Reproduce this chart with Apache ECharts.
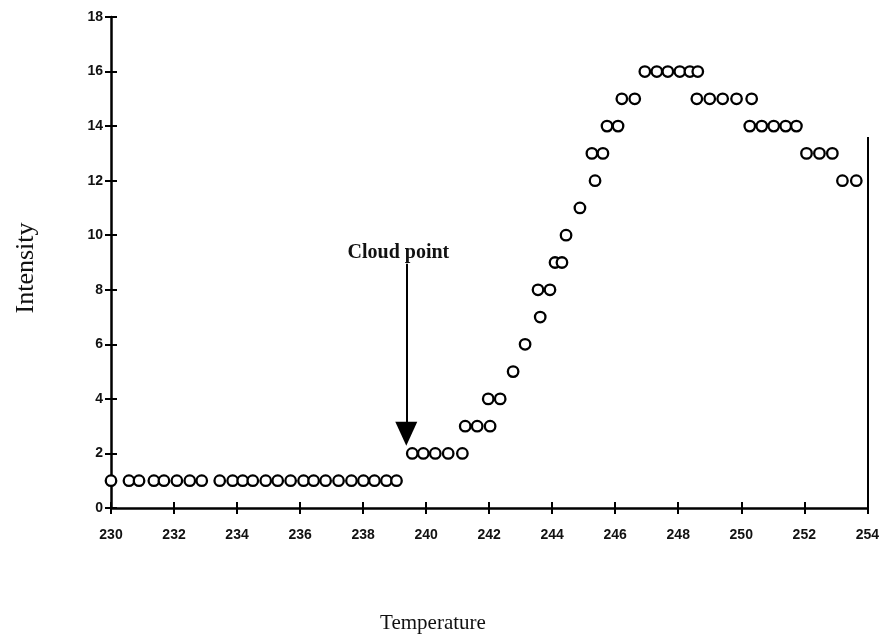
<!DOCTYPE html>
<html>
<head>
<meta charset="utf-8">
<script src="https://cdn.jsdelivr.net/npm/echarts@6/dist/echarts.min.js"></script>
<style>html,body{margin:0;padding:0;background:#fff;}#c{width:882px;height:638px;}</style>
</head>
<body>
<div id="c"></div>
<script>
// Temperature readings (x) and intensity (y)
const temperature = [
  230.0, 230.57, 230.89, 231.36, 231.68, 232.09, 232.5, 232.88, 233.45, 233.86, 234.18, 234.5,
  234.91, 235.29, 235.7, 236.11, 236.43, 236.81, 237.22, 237.63, 238.01, 238.36, 238.74, 239.06,
  239.56, 239.91, 240.29, 240.7, 241.15,
  241.24, 241.62, 242.03,
  241.97, 242.35,
  242.76, 243.14, 243.62, 243.55, 243.93, 244.09, 244.31, 244.44, 244.88, 245.36,
  245.26, 245.61, 245.74, 246.09, 246.21, 246.62,
  246.94, 247.32, 247.67, 248.05, 248.37, 248.62,
  248.59, 249.0, 249.41, 249.85, 250.33,
  250.27, 250.65, 251.03, 251.41, 251.75,
  252.07, 252.48, 252.89,
  253.21, 253.65
];
const intensity = [
  1, 1, 1, 1, 1, 1, 1, 1, 1, 1, 1, 1,
  1, 1, 1, 1, 1, 1, 1, 1, 1, 1, 1, 1,
  2, 2, 2, 2, 2,
  3, 3, 3,
  4, 4,
  5, 6, 7, 8, 8, 9, 9, 10, 11, 12,
  13, 13, 14, 14, 15, 15,
  16, 16, 16, 16, 16, 16,
  15, 15, 15, 15, 15,
  14, 14, 14, 14, 14,
  13, 13, 13,
  12, 12
];
const xTicks = [230, 232, 234, 236, 238, 240, 242, 244, 246, 248, 250, 252, 254];
const yTicks = [0, 2, 4, 6, 8, 10, 12, 14, 16, 18];
// Annotation: "Cloud point" arrow (temperature, intensity from / to)
const cloudLabel = 'Cloud point';
const cloudArrowX = 239.37;
const cloudArrowFrom = 8.95;
const cloudArrowTo = 2.72;
const cloudLabelPos = [239.12, 9.34];
const rightEdge = [[254, 0], [254, 13.6]];

const points = temperature.map((t, i) => [t, intensity[i]]);
const chart = echarts.init(document.getElementById('c'));
const tickFont = { fontFamily: 'Liberation Sans', fontWeight: 'bold', fontSize: 14, color: '#111' };
const xMin = xTicks[0], xMax = xTicks[xTicks.length - 1];
const yMin = yTicks[0], yMax = yTicks[yTicks.length - 1];
chart.setOption({
  animation: false,
  backgroundColor: '#fff',
  grid: { left: 111, right: 14, top: 17, bottom: 130 },
  xAxis: [{
    type: 'value', min: xMin, max: xMax, interval: 2,
    axisLine: { show: true, onZero: false, lineStyle: { color: '#000', width: 2.5 } },
    axisTick: { show: true, length: 6, lineStyle: { color: '#000', width: 2 } },
    axisLabel: Object.assign({ margin: 20 }, tickFont),
    splitLine: { show: false }
  }, {
    type: 'value', min: xMin, max: xMax, interval: 2, position: 'bottom',
    axisLine: { show: false },
    axisTick: { show: true, inside: true, length: 6, lineStyle: { color: '#000', width: 2 } },
    axisLabel: { show: false },
    splitLine: { show: false }
  }],
  yAxis: [{
    type: 'value', min: yMin, max: yMax, interval: 2,
    axisLine: { show: true, onZero: false, lineStyle: { color: '#000', width: 2.5 } },
    axisTick: { show: true, length: 6, lineStyle: { color: '#000', width: 2 } },
    axisLabel: Object.assign({ margin: 8 }, tickFont),
    splitLine: { show: false }
  }, {
    type: 'value', min: yMin, max: yMax, interval: 2, position: 'left',
    axisLine: { show: false },
    axisTick: { show: true, inside: true, length: 6, lineStyle: { color: '#000', width: 2 } },
    axisLabel: { show: false },
    splitLine: { show: false }
  }],
  graphic: [
    { type: 'text', x: 433, y: 623, style: { text: 'Temperature', font: '21px "Liberation Serif"', fill: '#111', textAlign: 'center', textVerticalAlign: 'middle' } },
    { type: 'text', x: 26, y: 268, rotation: Math.PI / 2, style: { text: 'Intensity', font: '26px "Liberation Serif"', fill: '#111', textAlign: 'center', textVerticalAlign: 'middle' } }
  ],
  series: [{
    type: 'scatter',
    data: points,
    symbol: 'circle',
    symbolSize: 10.5,
    itemStyle: { color: '#fff', borderColor: '#000', borderWidth: 2.3, opacity: 1 },
    z: 3,
    markLine: {
      silent: true,
      animation: false,
      data: [
        [{ coord: [cloudArrowX, cloudArrowFrom], symbol: 'none' },
         { coord: [cloudArrowX, cloudArrowTo], symbol: 'triangle', symbolSize: [22, 24], symbolRotate: 180 }],
        [{ coord: rightEdge[0], symbol: 'none' }, { coord: rightEdge[1], symbol: 'none' }]
      ],
      lineStyle: { color: '#000', width: 2, type: 'solid' },
      itemStyle: { color: '#000' },
      label: { show: false }
    },
    markPoint: {
      silent: true,
      animation: false,
      symbol: 'circle', symbolSize: 0,
      data: [{ coord: cloudLabelPos, value: cloudLabel }],
      label: { show: true, position: 'inside', formatter: cloudLabel,
        fontFamily: 'Liberation Serif', fontWeight: 'bold', fontSize: 20, color: '#111' }
    }
  }]
});
</script>
</body>
</html>
